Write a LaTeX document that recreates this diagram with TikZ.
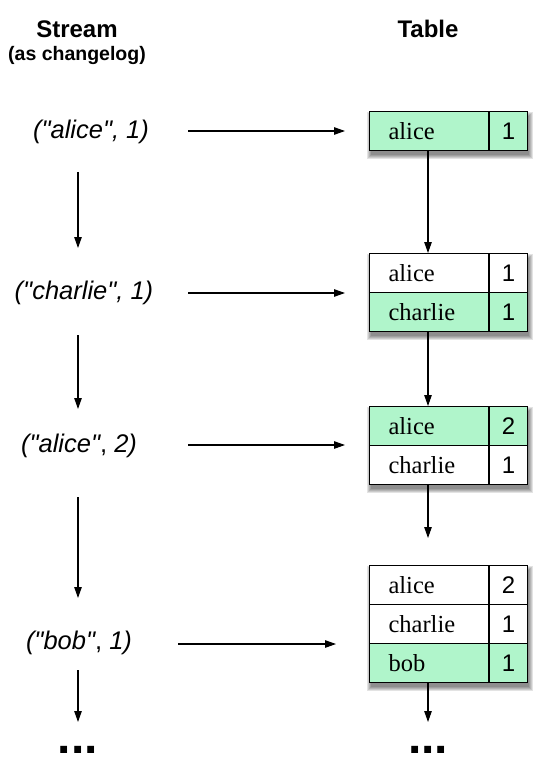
\documentclass[tikz,border=0pt]{standalone}
\usepackage{fontspec}
\setmainfont{Liberation Serif}
\setsansfont{Liberation Sans}
\newfontfamily\evtfont{Liberation Sans}[Ligatures=TeXOff]
\usetikzlibrary{arrows.meta}
\definecolor{rowgreen}{RGB}{176,245,203}
\begin{document}
\begin{tikzpicture}[x=1pt,y=-1pt,
  arr/.style={-{Triangle[length=11pt,width=7.5pt]}, line width=1.1pt},
  head/.style={font=\sffamily\bfseries\fontsize{24}{26}\selectfont},
  sub/.style={font=\sffamily\bfseries\fontsize{19.5}{21}\selectfont},
  evt/.style={font=\evtfont\itshape\fontsize{25.5}{27}\selectfont},
  dots/.style={font=\sffamily\bfseries\fontsize{48}{50}\selectfont, anchor=base},
  namecell/.style={draw, line width=1.1pt, anchor=north west, inner xsep=19pt, inner ysep=0pt,
    text width=81pt, minimum height=39pt, align=left, font=\fontsize{24.5}{26}\selectfont},
  numcell/.style={draw, line width=1.1pt, anchor=north west, inner sep=0pt,
    minimum width=38pt, minimum height=39pt, font=\sffamily\fontsize{24}{26}\selectfont},
  new/.style={fill=rowgreen},
  old/.style={fill=white},
  shade/.style={fill=black, opacity=0.11}
]
\useasboundingbox (0,0) rectangle (554,770);

% shadows (blurred look)
\foreach \t/\b in {111/150, 253/331, 406/484, 565/682}{
  \foreach \e in {0,1,2,3,4}{
    \fill[shade] (369+2-\e, \t+5-\e) rectangle (527+2+\e, \b+5+\e);
  }
}

% headers
\node[head] (hs) at (77,29) {Stream};
\node[sub] (hsub) at (77,56) {(as changelog)};
\node[head] (ht) at (428,29) {Table};

% stream events
\node[evt] (e1) at (91,132) {("alice", 1)};
\node[evt] (e2) at (84,293) {("charlie", 1)};
\node[evt] (e3) at (79,446) {("alice"{\upshape,} 2)};
\node[evt] (e4) at (79,643) {("bob"{\upshape,} 1)};

% table 1
\node[namecell,new] (t1a) at (369,111) {alice};
\node[numcell,new] (t1an) at (489,111) {1};
% table 2
\node[namecell,old] (t2a) at (369,253) {alice};
\node[numcell,old] (t2an) at (489,253) {1};
\node[namecell,new] (t2c) at (369,292) {charlie};
\node[numcell,new] (t2cn) at (489,292) {1};
% table 3
\node[namecell,new] (t3a) at (369,406) {alice};
\node[numcell,new] (t3an) at (489,406) {2};
\node[namecell,old] (t3c) at (369,445) {charlie};
\node[numcell,old] (t3cn) at (489,445) {1};
% table 4
\node[namecell,old] (t4a) at (369,565) {alice};
\node[numcell,old] (t4an) at (489,565) {2};
\node[namecell,old] (t4c) at (369,604) {charlie};
\node[numcell,old] (t4cn) at (489,604) {1};
\node[namecell,new] (t4b) at (369,643) {bob};
\node[numcell,new] (t4bn) at (489,643) {1};

% dots
\node[dots] (d1) at (78,753) {...};
\node[dots] (d2) at (428,753) {...};

% horizontal arrows
\coordinate (h1s) at (188,131); \coordinate (h1e) at (345,131);
\coordinate (h2s) at (188,293); \coordinate (h2e) at (345,293);
\coordinate (h3s) at (188,445); \coordinate (h3e) at (345,445);
\coordinate (h4s) at (178,644); \coordinate (h4e) at (336,644);
\draw[arr] (h1s) -- (h1e);
\draw[arr] (h2s) -- (h2e);
\draw[arr] (h3s) -- (h3e);
\draw[arr] (h4s) -- (h4e);

% left vertical arrows
\coordinate (l1s) at (78,172); \coordinate (l1e) at (78,248);
\coordinate (l2s) at (78,335); \coordinate (l2e) at (78,409);
\coordinate (l3s) at (78,497); \coordinate (l3e) at (78,598);
\coordinate (l4s) at (78,670); \coordinate (l4e) at (78,722);
\draw[arr] (l1s) -- (l1e);
\draw[arr] (l2s) -- (l2e);
\draw[arr] (l3s) -- (l3e);
\draw[arr] (l4s) -- (l4e);

% right vertical arrows
\coordinate (r3e) at (428,538); \coordinate (r4e) at (428,722);
\draw[arr] (t1a.south -| 428,0) -- (t2a.north -| 428,0);
\draw[arr] (t2c.south -| 428,0) -- (t3a.north -| 428,0);
\draw[arr] (t3c.south -| 428,0) -- (r3e);
\draw[arr] (t4b.south -| 428,0) -- (r4e);
\end{tikzpicture}
\end{document}
